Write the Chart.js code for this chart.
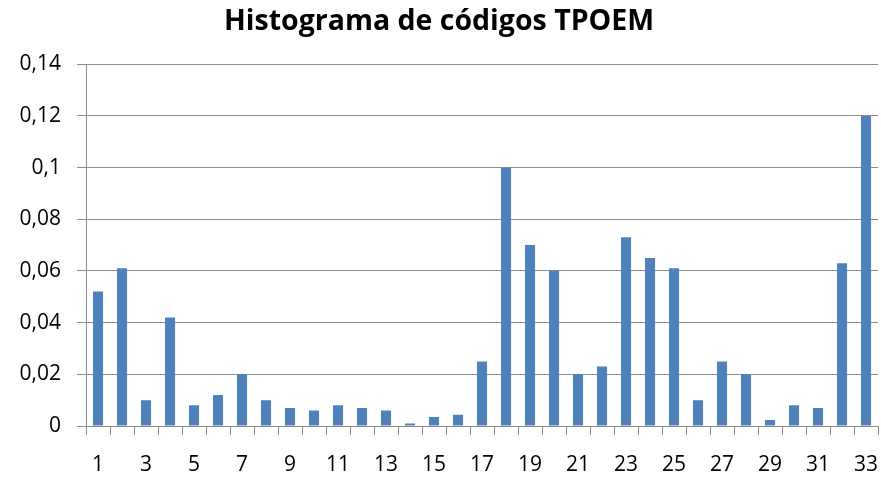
<!DOCTYPE html>
<html>
<head>
<meta charset="utf-8">
<script src="https://cdn.jsdelivr.net/npm/chart.js@4"></script>
<style>
  html, body { margin: 0; padding: 0; background: #fff; }
  #wrap { width: 881px; height: 483px; }
</style>
</head>
<body>
<div id="wrap"><canvas id="myChart"></canvas></div>
<script>
const codes = ['1','2','3','4','5','6','7','8','9','10','11','12','13','14','15','16','17',
               '18','19','20','21','22','23','24','25','26','27','28','29','30','31','32','33']
const freq = [0.052, 0.061, 0.010, 0.042, 0.008, 0.012, 0.020, 0.010, 0.007, 0.006, 0.008,
              0.007, 0.006, 0.001, 0.0035, 0.0044, 0.025, 0.100, 0.070, 0.060, 0.020, 0.023,
              0.073, 0.065, 0.061, 0.010, 0.025, 0.020, 0.0023, 0.008, 0.007, 0.063, 0.120]
const yTicks = [0, 0.02, 0.04, 0.06, 0.08, 0.1, 0.12, 0.14]

const font = "'Open Sans', 'Liberation Sans', sans-serif"

let ctx = document.getElementById('myChart').getContext('2d')
new Chart(ctx, {
    type: 'bar',
    data: {
        labels: codes,
        datasets: [{
            label: 'TPOEM',
            data: freq,
            backgroundColor: '#4F81BD',
            barPercentage: 0.42,
            categoryPercentage: 1
        }]
    },
    options: {
        responsive: true,
        maintainAspectRatio: false,
        animation: false,
        layout: { padding: { left: 0, right: 3, top: 0, bottom: 0 } },
        plugins: {
            legend: { display: false },
            tooltip: { enabled: false },
            title: {
                display: true,
                text: 'Histograma de códigos TPOEM',
                color: '#000',
                font: { family: font, size: 28.5, weight: 'bold' },
                padding: { top: 5, bottom: 25 }
            }
        },
        scales: {
            x: {
                offset: true,
                afterFit: scale => {
                    scale.height = 57
                    scale.paddingLeft = 0
                    scale.paddingRight = 0
                },
                grid: {
                    offset: true,
                    drawOnChartArea: false,
                    drawTicks: true,
                    tickLength: 9,
                    color: '#8c8c8c'
                },
                border: { color: '#8c8c8c', width: 1 },
                ticks: {
                    autoSkip: false,
                    maxRotation: 0,
                    color: '#000',
                    padding: 17,
                    font: { family: font, size: 21 },
                    callback: (v, i) => i % 2 === 0 ? codes[i] : ''
                }
            },
            y: {
                min: 0,
                max: 0.14,
                afterBuildTicks: scale => { scale.ticks = yTicks.map(v => ({ value: v })) },
                afterFit: scale => { scale.width = 86 },
                grid: {
                    color: '#8c8c8c',
                    tickLength: 9,
                    drawTicks: true
                },
                border: { color: '#8c8c8c', width: 1 },
                ticks: {
                    color: '#000',
                    padding: 16,
                    font: { family: font, size: 21 },
                    callback: v => String(+v.toFixed(2)).replace('.', ',')
                }
            }
        }
    }
})
</script>
</body>
</html>
